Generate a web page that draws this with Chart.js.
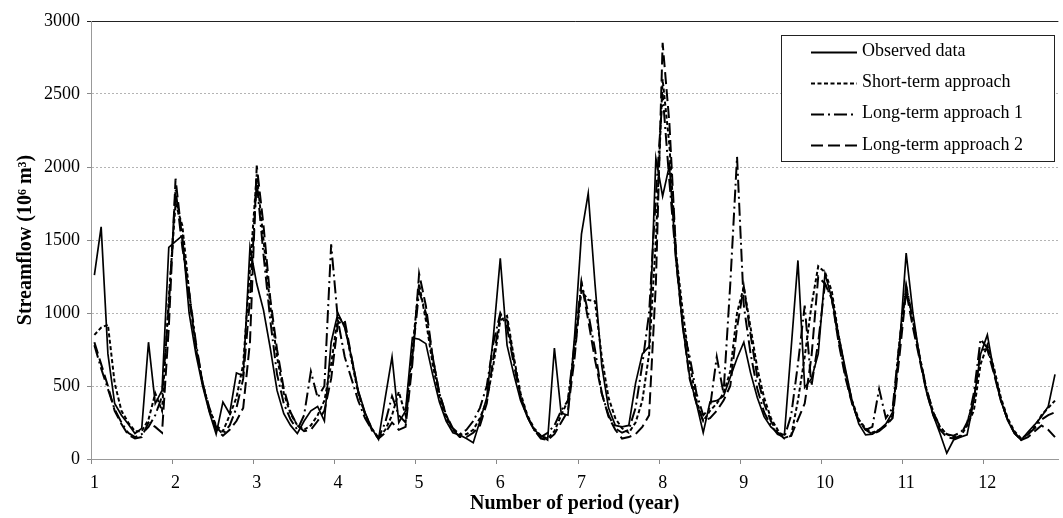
<!DOCTYPE html>
<html>
<head>
<meta charset="utf-8">
<script src="https://cdn.jsdelivr.net/npm/chart.js@4.4.1/dist/chart.umd.min.js"></script>
<style>
  html, body { margin: 0; padding: 0; background: #fff; }
  #wrap { width: 1063px; height: 518px; position: relative; }
</style>
</head>
<body>
<div id="wrap"><canvas id="c" width="1063" height="518"></canvas></div>
<script>
// ---- Data (monthly streamflow, 10^6 m^3), 12 values per year ----
const yearTicks = ['1','2','3','4','5','6','7','8','9','10','11','12'];

const observed = [
  1260,1590,720,380,300,240,175,210,800,380,470,1450,
  1490,1530,1000,720,500,320,170,390,310,590,570,1450,
  1200,1020,760,470,310,230,175,260,330,360,260,800,
  1000,900,700,470,320,210,135,420,700,250,330,830,
  820,790,580,390,260,180,165,140,112,260,420,850,
  1375,780,580,400,290,200,160,130,760,315,300,850,
  1540,1820,1200,640,350,230,220,230,520,720,770,2060,
  1800,2010,1350,900,560,380,180,390,400,430,560,690,
  800,590,420,290,220,180,165,760,1360,490,550,720,
  1270,1100,850,620,400,240,165,170,200,240,320,760,
  1410,1000,690,460,300,175,40,130,150,165,400,720,
  850,590,400,265,175,130,185,235,290,360,580
];

const shortTerm = [
  850,900,920,520,330,250,190,190,270,450,330,1100,
  1750,1600,1150,760,520,340,230,190,300,420,650,1300,
  1950,1500,1050,700,450,310,230,200,230,300,400,650,
  980,920,680,450,310,210,145,200,300,460,300,750,
  1200,950,650,420,280,200,165,170,200,280,400,650,
  950,980,700,450,300,210,160,140,190,300,400,750,
  1150,1090,1080,700,420,280,210,180,250,400,720,1500,
  2600,2150,1400,1000,650,400,260,330,380,450,600,1000,
  1180,900,620,420,280,200,145,160,400,700,1050,1320,
  1280,1150,850,600,400,270,210,180,200,230,300,800,
  1180,950,700,480,320,220,170,150,150,230,330,650,
  780,620,420,280,190,140,170,220,300,350,400
];

const longTerm1 = [
  780,620,480,340,250,180,150,170,220,300,430,1050,
  1850,1450,1150,800,520,350,220,170,230,350,550,1100,
  1900,1400,950,580,380,270,200,300,600,420,500,1470,
  950,700,550,400,280,200,145,250,430,300,250,700,
  1150,1000,700,450,300,210,170,200,260,350,500,800,
  1000,900,650,420,290,200,150,180,230,330,400,800,
  1210,1000,750,450,300,210,180,200,350,650,1000,1800,
  2500,1900,1350,900,700,450,300,350,700,450,1200,2070,
  1050,720,480,320,230,170,150,300,650,1050,500,800,
  1200,1100,820,580,380,260,200,220,480,280,350,800,
  1190,950,700,480,320,220,170,160,180,230,450,820,
  760,600,400,270,180,130,170,210,270,300,320
];

const longTerm2 = [
  800,650,500,330,240,165,140,150,250,220,180,900,
  1920,1500,1100,780,520,330,200,160,200,260,350,800,
  2010,1600,1100,750,480,320,230,190,200,260,330,550,
  930,950,700,460,310,200,140,180,250,200,220,650,
  1270,1050,700,450,300,200,150,150,180,230,380,700,
  980,950,680,430,290,200,140,130,170,250,330,700,
  1210,950,680,450,290,200,140,150,170,220,300,1200,
  2850,2300,1400,900,550,380,260,280,330,400,500,900,
  1180,850,560,380,260,180,140,160,270,380,700,1250,
  1200,1100,800,560,380,260,200,170,190,230,280,700,
  1150,900,680,460,300,200,150,140,160,250,400,750,
  750,580,400,270,180,130,150,190,230,200,150
];

const seriesNames = ['Observed data','Short-term approach','Long-term approach 1','Long-term approach 2'];

// ---- Chart ----
const months = observed.map((_, i) => String(i));
const FONT = "'Liberation Serif', 'Times New Roman', serif";

const legendBox = {
  id: 'legendBox',
  afterDatasetsDraw(chart) {
    const ctx = chart.ctx;
    const x0 = 781, y0 = 35, w = 273, h = 126;
    ctx.save();
    ctx.fillStyle = '#fff';
    ctx.fillRect(x0, y0, w, h);
    ctx.strokeStyle = '#222';
    ctx.lineWidth = 1;
    ctx.setLineDash([]);
    ctx.strokeRect(x0 + 0.5, y0 + 0.5, w, h);
    const rows = [51.5, 82.5, 113.5, 145];
    chart.data.datasets.forEach((ds, k) => {
      const y = Math.round(rows[k]) + 0.5;
      ctx.beginPath();
      ctx.setLineDash(ds.borderDash || []);
      ctx.lineWidth = 2;
      ctx.strokeStyle = '#000';
      ctx.moveTo(811, y);
      ctx.lineTo(857, y);
      ctx.stroke();
      ctx.setLineDash([]);
      ctx.fillStyle = '#000';
      ctx.font = '18px ' + FONT;
      ctx.textBaseline = 'middle';
      ctx.textAlign = 'left';
      ctx.fillText(ds.label, 862, rows[k]);
    });
    ctx.restore();
  }
};

const mk = (label, data, dash, width) => ({
  label, data, borderColor: '#000', backgroundColor: '#000',
  borderWidth: width, borderDash: dash, pointRadius: 0, tension: 0, fill: false
});

new Chart(document.getElementById('c'), {
  type: 'line',
  data: {
    labels: months,
    datasets: [
      mk(seriesNames[0], observed, [], 1.7),
      mk(seriesNames[1], shortTerm, [4, 2.5], 2),
      mk(seriesNames[2], longTerm1, [13, 4, 2, 4], 2),
      mk(seriesNames[3], longTerm2, [12, 5], 2)
    ]
  },
  plugins: [legendBox],
  options: {
    responsive: false,
    animation: false,
    devicePixelRatio: 1,
    layout: { padding: { left: 0, right: 0, top: 21, bottom: 2 } },
    plugins: { legend: { display: false }, tooltip: { enabled: false } },
    scales: {
      x: {
        type: 'category',
        offset: true,
        afterFit: s => { s.height = 57; },
        grid: {
          offset: true,
          drawOnChartArea: false,
          drawTicks: true,
          tickLength: 5,
          tickColor: c => (c.index % 12 === 0 && c.index < months.length) ? '#888' : 'rgba(0,0,0,0)',
          color: 'rgba(0,0,0,0)'
        },
        border: { display: true, color: '#999', width: 1 },
        ticks: {
          autoSkip: false,
          maxRotation: 0,
          minRotation: 0,
          padding: 8,
          color: '#000',
          font: { family: FONT, size: 18 },
          callback: (v, i) => (i % 12 === 0) ? yearTicks[i / 12] : ''
        },
        title: {
          display: true,
          text: 'Number of period (year)',
          color: '#000',
          font: { family: FONT, size: 20, weight: 'bold' },
          padding: { top: 0, bottom: 0 }
        }
      },
      y: {
        min: 0,
        max: 3000,
        afterFit: s => { s.width = 91; },
        ticks: {
          stepSize: 500,
          padding: 7,
          color: '#000',
          font: { family: FONT, size: 18 },
          callback: v => String(v)
        },
        grid: {
          drawTicks: true,
          tickLength: 4,
          tickColor: c => c.tick && c.tick.value === 3000 ? '#222' : '#888',
          color: c => c.tick && c.tick.value === 3000 ? '#222' : (c.tick && c.tick.value === 0 ? '#999' : '#b4b4b4'),
          lineWidth: 1
        },
        border: {
          display: true,
          color: '#999',
          width: 1,
          dash: c => (c.tick && (c.tick.value === 3000 || c.tick.value === 0)) ? [] : [2, 2]
        },
        title: {
          display: true,
          text: 'Streamflow (10\u2076 m\u00B3)',
          color: '#000',
          font: { family: FONT, size: 20, weight: 'bold' },
          padding: { top: 14, bottom: 0 }
        }
      }
    }
  }
});
</script>
</body>
</html>
